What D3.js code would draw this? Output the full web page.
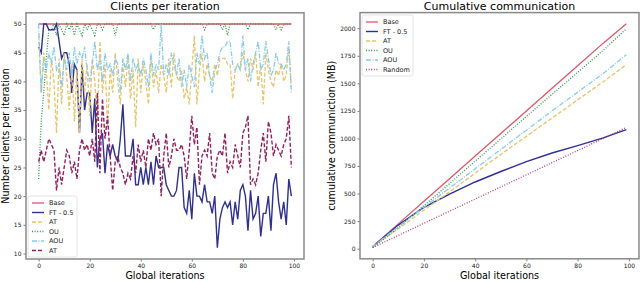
<!DOCTYPE html>
<html>
<head>
<meta charset="utf-8">
<script src="https://cdn.jsdelivr.net/npm/d3@7"></script>
<style>
body { margin: 0; background: #fff; }
text { font-family: "DejaVu Sans", sans-serif; }
</style>
</head>
<body>
<svg id="chart" width="640" height="282"></svg>
<script>
// ---- left panel: clients per iteration (iterations 0..99) ----
const iterations = d3.range(100);

const baseClients = [50,50,50,50,50,50,50,50,50,50, 50,50,50,50,50,50,50,50,50,50,
  50,50,50,50,50,50,50,50,50,50, 50,50,50,50,50,50,50,50,50,50,
  50,50,50,50,50,50,50,50,50,50, 50,50,50,50,50,50,50,50,50,50,
  50,50,50,50,50,50,50,50,50,50, 50,50,50,50,50,50,50,50,50,50,
  50,50,50,50,50,50,50,50,50,50, 50,50,50,50,50,50,50,50,50,50];

const ftClients = [46,45,50,50,49,49,49,50,47,44, 45,45,43,38,43,42,31,43,35,38,
  38,31,37,25,30,31,24,29,27,29, 27,26,30,36,27,27,27,30,22,22,
  25,22,25,22,26,22,27,25,25,25, 22,21,20,20,21,25,25,18,17,21,
  16,24,20,20,19,22,19,19,17,20, 11,16,18,19,18,19,15,19,16,21,
  22,20,14,21,16,17,20,13,17,17, 20,14,22,24,19,16,19,15,23,20];

const atClients = [48,38,45,42,35,44,40,31,44,36, 45,41,35,43,33,42,31,44,38,43,
  34,44,40,33,47,38,43,32,42,38, 45,40,36,43,39,44,37,42,32,44,
  38,43,40,36,44,39,42,38,43,41, 38,44,39,45,41,40,42,37,39,36,
  42,48,36,42,45,40,43,41,40,43, 41,44,44,44,43,43,37,42,43,42,
  45,42,40,44,42,45,39,43,36,45, 42,40,39,42,41,43,40,41,46,39];

const ouClients = [23,33,38,44,49,49,50,48,50,49, 48,50,49,50,48,50,49,48,50,49,
  50,49,48,50,50,49,50,50,50,50, 48,50,50,50,50,50,50,50,50,50,
  50,50,50,50,50,49,50,50,50,50, 50,50,50,50,50,50,50,50,50,50,
  50,50,50,50,50,49,50,50,50,50, 50,50,49,50,48,50,50,50,50,50,
  50,50,49,50,50,50,50,50,50,50, 50,50,50,49,50,49,50,50,50,50];

const aouClients = [50,38,44,42,45,43,46,42,43,39, 44,42,45,41,46,43,45,44,46,42,
  40,43,47,42,44,40,45,42,43,41, 44,43,38,44,42,45,40,44,42,43,
  41,44,42,39,45,41,43,42,50,41, 43,41,45,43,41,44,39,42,39,43,
  41,39,45,43,48,44,45,41,38,42, 43,45,46,46,47,47,43,42,43,42,
  48,42,44,40,43,45,47,42,43,47, 44,41,42,45,43,43,42,43,47,38];

const randClients = [26,28,26,28,30,29,28,21,25,22, 25,28,27,24,26,23,28,30,28,29,
  27,30,26,38,24,37,30,34,27,21, 26,27,25,24,22,24,23,27,24,29,
  26,28,25,30,28,31,29,30,20,27, 31,25,27,30,28,28,29,27,23,28,
  34,29,32,22,27,28,27,31,24,23, 27,28,27,31,24,26,25,29,27,25,
  31,32,34,22,23,22,24,28,31,26, 33,31,27,29,28,27,29,30,34,25];

// ---- right panel: cumulative communication (MB), read every 10 iterations ----
const commIters = [0,10,20,30,40,50,60,70,80,90,99];
const baseComm = [20,225,430,635,840,1045,1250,1455,1660,1865,2040];
const ftComm   = [18,214,375,495,605,700,790,868,935,1005,1080];
const atComm   = [20,180,350,515,685,855,1020,1185,1350,1515,1670];
const ouComm   = [9,190,390,590,795,995,1200,1400,1600,1800,1995];
const aouComm  = [20,200,375,550,725,900,1075,1250,1420,1590,1760];
const randComm = [10,120,230,340,450,560,670,780,890,1000,1100];

const leftTicksY = [10,15,20,25,30,35,40,45,50];
const rightTicksY = [0,250,500,750,1000,1250,1500,1750,2000];
const ticksX = [0,20,40,60,80,100];

// line styles per series name
const styles = {
  base:  {color: "#e0566c", width: 1.3, dash: null},
  ft:    {color: "#2f2f96", width: 1.4, dash: null},
  at:    {color: "#e8c46a", width: 1.3, dash: "4,2"},
  ou:    {color: "#2e9a4a", width: 1.3, dash: "1,1.6"},
  aou:   {color: "#85cdee", width: 1.3, dash: "5,1.5,1,1.5"},
  rand:  {color: "#94205e", width: 1.4, dash: "4,2"},
  randR: {color: "#b8407a", width: 1.3, dash: "1,1.6"}
};

const svg = d3.select("#chart");

function panel(opts) {
  const x = d3.scaleLinear().domain([-4.95, 103.95]).range([opts.left, opts.right]);
  const y = d3.scaleLinear().domain(opts.yDomain).range([opts.bottom, opts.top]);
  const g = svg.append("g");

  const xAxis = g.append("g")
    .attr("transform", "translate(0," + opts.bottom + ")")
    .call(d3.axisBottom(x).tickValues(ticksX).tickFormat(d3.format("d")).tickSize(2.5).tickPadding(2));
  const yAxis = g.append("g")
    .attr("transform", "translate(" + opts.left + ",0)")
    .call(d3.axisLeft(y).tickValues(opts.yTicks).tickFormat(d3.format("d")).tickSize(2.5).tickPadding(2));
  [xAxis, yAxis].forEach(a => {
    a.select(".domain").remove();
    a.selectAll("line").attr("stroke", "#444").attr("stroke-width", 0.7);
    a.selectAll("text").style("font-size", "6px").attr("fill", "#222");
  });

  const line = d3.line().x(d => x(d[0])).y(d => y(d[1]));
  opts.series.forEach(s => {
    const st = styles[s.style];
    g.append("path")
      .datum(s.xs.map((v, i) => [v, s.ys[i]]))
      .attr("d", line)
      .attr("fill", "none")
      .attr("stroke", st.color)
      .attr("stroke-width", st.width)
      .attr("stroke-dasharray", st.dash);
  });

  // frame
  g.append("rect")
    .attr("x", opts.left).attr("y", opts.top)
    .attr("width", opts.right - opts.left).attr("height", opts.bottom - opts.top)
    .attr("fill", "none").attr("stroke", "#8a8a8a").attr("stroke-width", 1.5);

  g.append("text")
    .attr("x", (opts.left + opts.right) / 2).attr("y", 10)
    .attr("text-anchor", "middle").style("font-size", "11px")
    .text(opts.title);
  g.append("text")
    .attr("x", (opts.left + opts.right) / 2).attr("y", 279)
    .attr("text-anchor", "middle").style("font-size", "9.6px")
    .text("Global iterations");
  g.append("text")
    .attr("transform", "translate(" + opts.yLabelX + "," + ((opts.top + opts.bottom) / 2) + ") rotate(-90)")
    .attr("text-anchor", "middle").style("font-size", "9.6px")
    .text(opts.yLabel);

  // legend
  const lg = g.append("g");
  lg.append("rect")
    .attr("x", opts.legend.x).attr("y", opts.legend.y)
    .attr("width", opts.legend.w).attr("height", opts.series.length * 9.5 + 4)
    .attr("rx", 2).attr("fill", "#fff").attr("fill-opacity", 0.85)
    .attr("stroke", "#ddd").attr("stroke-width", 0.8);
  opts.series.forEach((s, i) => {
    const st = styles[s.style];
    const yy = opts.legend.y + 7 + i * 9.5;
    lg.append("line")
      .attr("x1", opts.legend.x + 4).attr("x2", opts.legend.x + 16)
      .attr("y1", yy).attr("y2", yy)
      .attr("stroke", st.color).attr("stroke-width", st.width)
      .attr("stroke-dasharray", st.dash);
    lg.append("text")
      .attr("x", opts.legend.x + 21).attr("y", yy + 2.3)
      .style("font-size", "6.5px").attr("fill", "#222")
      .text(s.name);
  });
}

panel({
  left: 26, right: 304, top: 12.8, bottom: 259,
  yDomain: [9.05, 51.95], yTicks: leftTicksY,
  title: "Clients per iteration",
  yLabel: "Number clients per iteration", yLabelX: 9,
  legend: {x: 28, y: 196, w: 49},
  series: [
    {name: "Base", style: "base", xs: iterations, ys: baseClients},
    {name: "FT - 0.5", style: "ft", xs: iterations, ys: ftClients},
    {name: "AT", style: "at", xs: iterations, ys: atClients},
    {name: "OU", style: "ou", xs: iterations, ys: ouClients},
    {name: "AOU", style: "aou", xs: iterations, ys: aouClients},
    {name: "AT", style: "rand", xs: iterations, ys: randClients}
  ]
});

panel({
  left: 360, right: 639, top: 12.6, bottom: 258.8,
  yDomain: [-92, 2142], yTicks: rightTicksY,
  title: "Cumulative communication",
  yLabel: "cumulative communiction (MB)", yLabelX: 335,
  legend: {x: 362, y: 15, w: 51},
  series: [
    {name: "Base", style: "base", xs: commIters, ys: baseComm},
    {name: "FT - 0.5", style: "ft", xs: commIters, ys: ftComm},
    {name: "AT", style: "at", xs: commIters, ys: atComm},
    {name: "OU", style: "ou", xs: commIters, ys: ouComm},
    {name: "AOU", style: "aou", xs: commIters, ys: aouComm},
    {name: "Random", style: "randR", xs: commIters, ys: randComm}
  ]
});
</script>
</body>
</html>
